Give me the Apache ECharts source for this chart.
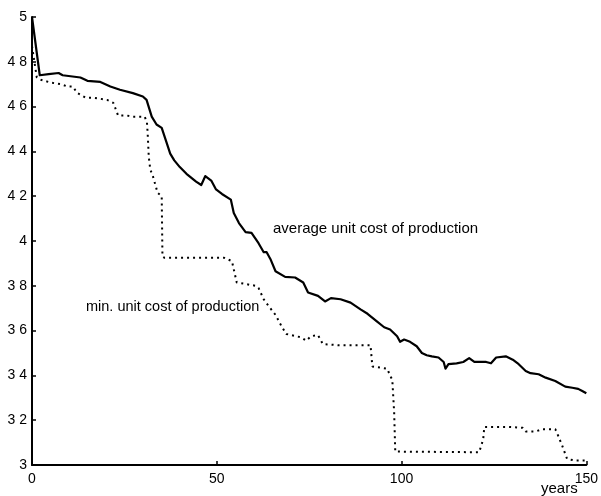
<!DOCTYPE html>
<html>
<head>
<meta charset="utf-8">
<script src="https://cdn.jsdelivr.net/npm/echarts@6/dist/echarts.min.js"></script>
<style>
  html, body { margin: 0; padding: 0; background: #fff; }
  #chart { width: 601px; height: 496px; }
</style>
</head>
<body>
<div id="chart"></div>
<script>
// Average unit cost of production over time (years)
const avgYears = [0, 2.1, 4.5, 7.2, 8.3, 13.1, 15.0, 18.5, 21.2, 23.8, 27.3, 30.0, 31.0, 32.4, 33.7, 35.1,
  36.4, 37.4, 38.5, 40.0, 41.8, 44.4, 45.8, 46.9, 48.5, 49.8, 51.4, 53.8, 54.6, 56.0, 57.8, 59.4,
  61.3, 62.7, 63.5, 64.5, 65.9, 68.5, 71.2, 73.4, 74.7, 77.4, 79.3, 80.9, 83.5, 86.2, 88.9, 90.8,
  93.4, 95.3, 96.9, 98.8, 99.6, 100.7, 102.3, 104.1, 105.5, 106.8, 108.2, 110.0, 111.4, 111.9,
  112.7, 114.9, 116.7, 118.3, 119.7, 122.9, 124.2, 125.6, 128.2, 130.1, 131.7, 133.6, 134.9,
  137.1, 139.0, 141.6, 144.3, 146.2, 147.8, 148.9, 150];
const avgCost = [5.0, 4.74, 4.745, 4.75, 4.74, 4.73, 4.715, 4.71, 4.69, 4.675, 4.66, 4.645, 4.63, 4.555, 4.52, 4.505,
  4.44, 4.39, 4.36, 4.33, 4.30, 4.265, 4.25, 4.29, 4.27, 4.23, 4.21, 4.185, 4.125, 4.08, 4.04, 4.036,
  3.99, 3.95, 3.95, 3.92, 3.865, 3.84, 3.837, 3.815, 3.77, 3.755, 3.73, 3.745, 3.74, 3.725, 3.695, 3.675,
  3.64, 3.615, 3.605, 3.575, 3.55, 3.56, 3.55, 3.53, 3.50, 3.49, 3.485, 3.48, 3.46, 3.43,
  3.45, 3.454, 3.46, 3.477, 3.46, 3.46, 3.454, 3.48, 3.485, 3.47, 3.45, 3.42, 3.41,
  3.405, 3.39, 3.375, 3.35, 3.345, 3.34, 3.33, 3.32];

// Minimum unit cost of production over time (years)
const minYears = [0, 1.3, 2.4, 5.1, 7.8, 9.6, 11.0, 12.3, 14.5, 16.6, 20.3, 22.0, 23.3, 25.7, 27.3, 30.5,
  31.1, 31.3, 31.6, 32.0, 32.7, 34.0, 35.1, 35.3, 35.9, 45.2, 52.0, 54.1, 54.6, 55.4, 60.5, 61.3,
  62.7, 64.0, 65.9, 67.5, 68.8, 72.8, 74.2, 75.5, 77.4, 78.7, 82.7, 91.6, 92.1, 96.1, 96.9, 97.5,
  98.0, 98.3, 98.8, 121.0, 122.1, 122.4, 129.0, 132.8, 133.6, 136.3, 138.2, 141.6, 142.4, 143.5,
  144.8, 147.0, 150];
const minCost = [4.87, 4.73, 4.72, 4.707, 4.70, 4.69, 4.69, 4.66, 4.64, 4.64, 4.63, 4.617, 4.56, 4.56, 4.555, 4.555,
  4.53, 4.48, 4.375, 4.32, 4.29, 4.215, 4.20, 3.93, 3.925, 3.925, 3.925, 3.91, 3.91, 3.815, 3.80, 3.79,
  3.74, 3.71, 3.67, 3.62, 3.585, 3.57, 3.555, 3.575, 3.58, 3.54, 3.535, 3.535, 3.44, 3.43, 3.40, 3.38,
  3.235, 3.06, 3.057, 3.057, 3.115, 3.17, 3.17, 3.166, 3.15, 3.15, 3.16, 3.16, 3.13, 3.085,
  3.027, 3.02, 3.02];

const seriesNames = ['average unit cost of production', 'min. unit cost of production'];
const xLabelText = 'years';

const zip = (xs, ys) => xs.map((x, i) => [x, ys[i]]);
const FONT = '"Liberation Sans", Arial, sans-serif';

const chart = echarts.init(document.getElementById('chart'), null, { renderer: 'canvas' });

chart.setOption({
  animation: false,
  backgroundColor: '#fff',
  grid: { left: 32, right: 10, top: 17, bottom: 31, containLabel: false },
  xAxis: {
    type: 'value', min: 0, max: 150, interval: 50,
    axisLine: { show: true, lineStyle: { color: '#000', width: 2 } },
    axisTick: { show: true, inside: true, length: 4, lineStyle: { color: '#000', width: 1.5 } },
    axisLabel: { color: '#000', fontFamily: FONT, fontSize: 14, margin: 7 },
    splitLine: { show: false }
  },
  yAxis: {
    type: 'value', min: 3, max: 5, interval: 0.2,
    axisLine: { show: true, lineStyle: { color: '#000', width: 2 } },
    axisTick: { show: true, inside: true, length: 4, lineStyle: { color: '#000', width: 1.5 } },
    axisLabel: {
      color: '#000', fontFamily: FONT, fontSize: 14, margin: 5,
      formatter: v => String(Math.round(v * 10) / 10).replace('.', ' ')
    },
    splitLine: { show: false }
  },
  series: [
    {
      name: seriesNames[0], type: 'line', data: zip(avgYears, avgCost),
      showSymbol: false, symbol: 'none',
      lineStyle: { color: '#000', width: 2.2, join: 'round' }
    },
    {
      name: seriesNames[1], type: 'line', data: zip(minYears, minCost),
      showSymbol: false, symbol: 'none',
      lineStyle: { color: '#000', width: 2, type: [2, 4] }
    }
  ],
  graphic: [
    { type: 'text', left: 273, top: 221, style: { text: seriesNames[0], fill: '#000', font: '15px ' + FONT } },
    { type: 'text', left: 86, top: 299, style: { text: seriesNames[1], fill: '#000', font: '14.5px ' + FONT } },
    { type: 'text', left: 541, top: 481, style: { text: xLabelText, fill: '#000', font: '15px ' + FONT } }
  ]
});
</script>
</body>
</html>
